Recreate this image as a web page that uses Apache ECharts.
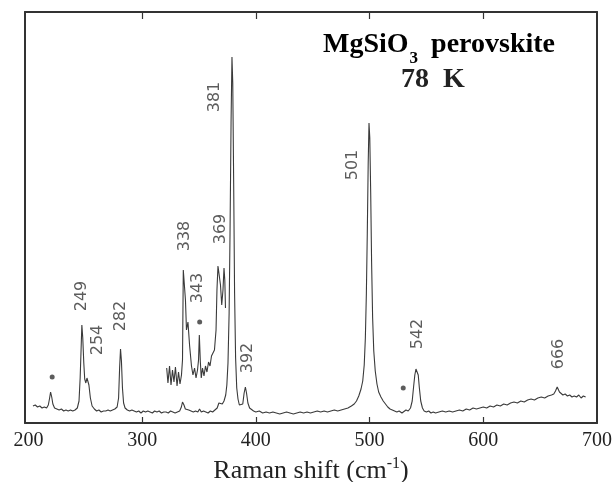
<!DOCTYPE html>
<html><head><meta charset="utf-8">
<script src="https://cdn.jsdelivr.net/npm/echarts@6/dist/echarts.min.js"></script>
<style>html,body{margin:0;padding:0;background:#fff}#c{width:614px;height:482px}</style>
</head><body><div id="c"></div>
<script>
// Main Raman spectrum (wavenumber cm^-1, intensity arb. units)
var specX = [204,206,208,210,212,214,216,217.5,218.5,219.5,220.5,221.5,223,225,227,229,231,233,235,237,239,241,243,244.5,245.5,246.5,247,247.8,248.7,249.5,250.5,251.5,252.3,253.2,254.5,256,258,260,262,264,266,268,270,272,274,276,278,279.3,280.2,281,281.8,282.7,283.7,285,287,289,291,293,295,297,299,301,303,305,307,309,311,313,315,317,319,321,323,325,327,329,331,333,334.5,335.5,336.8,338,339.5,341,343,345,347,349,350.5,352,354,356,358,360,362,364,366,367.5,369,370.5,372,373.5,374.5,375.5,376.5,377.3,378.2,379,379.7,380.5,381.3,382.2,383.2,384.3,385.5,387,388.5,389.7,390.8,391.8,393,394.5,396,398,400,403,406,409,412,415,418,421,424,427,430,433,436,439,442,445,448,451,454,457,460,463,466,469,472,475,478,481,484,486.5,488.5,490.5,492.5,494,495.3,496.3,497.2,498,498.8,499.5,500.2,501,501.8,502.7,503.7,505,506.5,508,510,512,514,516,518,520,522,524,526,527.5,528.5,530,532,534,536,537.5,538.7,539.8,540.8,541.8,542.8,543.8,545,546.5,548,550,552,554,556,558,561,564,567,570,573,576,579,582,585,588,591,594,597,600,603,606,609,612,615,618,621,624,627,630,633,636,639,642,645,648,651,654,657,660,662,663.5,665,666,667,668.5,670,672,674,676,678,680,682,684,686,688,690];
var specY = [17,18,16,17,15,16,15,18,24,31,26,19,15,14,13,14,12,13,12,13,12,13,15,22,45,80,98,85,60,44,40,45,47,38,25,17,14,12,13,11,12,12,13,12,13,14,16,25,55,74,62,35,20,15,13,12,13,12,11,12,10,12,11,12,11,10,12,11,12,10,11,11,10,12,11,10,11,12,16,21,18,14,15,13,12,11,12,11,14,11,12,11,10,12,11,13,15,20,18,19,22,28,38,60,110,190,300,366,340,240,130,65,35,24,18,16,19,30,36,30,20,15,13,12,11,12,10,11,10,11,10,9,10,11,10,9,10,11,10,11,10,11,12,11,12,11,12,13,12,13,14,15,17,19,22,27,34,42,58,85,130,190,260,300,285,230,160,105,72,52,39,31,26,22,19,16,14,13,12,11,12,13,10,11,13,12,15,22,36,48,54,55,48,35,22,15,12,11,12,10,11,10,11,12,11,12,11,12,13,12,14,13,15,14,15,16,15,17,16,18,17,19,18,20,21,20,22,21,23,24,23,25,26,25,27,28,29,32,36,35,31,29,28,29,27,28,26,27,26,28,25,27,26];

// Magnified inset of the 320-375 cm^-1 region (offset upward)
var insetX = [321.6,322.7,324.1,325.4,326.7,328.0,329.3,330.7,332.0,333.3,334.6,335.5,336.2,337.0,338.1,339.0,340.3,341.7,343.4,344.7,346.1,347.4,348.7,349.6,350.3,351.2,352.0,353.1,354.4,355.7,357.0,358.4,359.7,361.0,362.3,363.6,365.0,365.8,366.7,367.6,368.9,370.0,371.1,372.0,372.7,373.3];
var insetY = [55,40,57,38,53,41,56,37,51,39,48,63,153,155,123,93,101,78,57,48,55,45,53,63,88,61,45,55,47,57,51,61,57,67,65,73,93,133,157,159,138,118,133,155,143,115];

// Peak labels (text, label centre position)
var peakLabels = ['381','338','369','249','254','282','343','392','501','542','666'];
var peakLabelX = [364.1,337.3,369.4,247.1,261.2,281.4,348.7,392.7,485.4,542.6,666.6];
var peakLabelY = [326,187,194,127,83,107,135,65,258,89,69];

// Asterisk markers
var starX = [220.9,350.6,529.6];
var starY = [46,101,35];

// Axis tick labels
var xTickLabels = [200,300,400,500,600,700];
var xTicks = [300,400,500,600];

var chart = echarts.init(document.getElementById('c'), null, {renderer:'canvas'});
var lineCol = '#333';
var zip = function(a,b){return a.map(function(v,i){return [v,b[i]];});};

var option = {
  animation:false,
  backgroundColor:'#fff',
  grid:{left:25,right:17,top:12,bottom:59,outerBoundsMode:'none',containLabel:false},
  xAxis:[{
    type:'value', min:197, max:700, position:'bottom',
    axisLine:{show:true,onZero:false,lineStyle:{color:lineCol,width:2}},
    axisTick:{show:true,inside:true,length:6,customValues:xTicks,lineStyle:{color:lineCol,width:1.2}},
    axisLabel:{show:true,customValues:xTickLabels,margin:8,fontFamily:'Liberation Serif',fontSize:20,color:'#222'},
    splitLine:{show:false},
    name:'{a|Raman shift (cm}{s|-1}{a|)}', nameLocation:'middle', nameGap:32,
    nameTextStyle:{rich:{
      a:{fontFamily:'Liberation Serif',fontSize:26,color:'#222',lineHeight:26,padding:[2,0,0,0],verticalAlign:'top'},
      s:{fontFamily:'Liberation Serif',fontSize:16,color:'#222',lineHeight:16,verticalAlign:'top'}
    }}
  },{
    type:'value', min:197, max:700, position:'top',
    axisLine:{show:true,onZero:false,lineStyle:{color:lineCol,width:2}},
    axisTick:{show:true,inside:true,length:7,customValues:xTicks,lineStyle:{color:lineCol,width:1.2}},
    axisLabel:{show:false}, splitLine:{show:false}
  }],
  yAxis:[{
    type:'value', min:0, max:411, position:'left',
    axisLine:{show:true,onZero:false,lineStyle:{color:lineCol,width:2}},
    axisTick:{show:false}, axisLabel:{show:false}, splitLine:{show:false}
  },{
    type:'value', min:0, max:411, position:'right',
    axisLine:{show:true,onZero:false,lineStyle:{color:lineCol,width:2}},
    axisTick:{show:false}, axisLabel:{show:false}, splitLine:{show:false}
  }],
  series:[{
    type:'line', data:zip(specX,specY), showSymbol:false, symbol:'none',
    lineStyle:{color:'#3a3a3a',width:1.1}, z:3
  },{
    type:'line', data:zip(insetX,insetY), showSymbol:false, symbol:'none',
    lineStyle:{color:'#3a3a3a',width:1.1}, z:3
  },{
    type:'scatter', symbolSize:0, silent:true,
    data:peakLabels.map(function(t,i){return {value:[peakLabelX[i],peakLabelY[i]],name:t};}),
    label:{show:true,position:'inside',rotate:90,formatter:'{b}',fontFamily:'DejaVu Sans',fontSize:16,color:'#333',align:'center',verticalAlign:'middle'}
  },{
    type:'scatter', symbol:'circle', symbolSize:5, silent:true,
    itemStyle:{color:'#333'},
    data:zip(starX,starY)
  }],
  graphic:[{
    type:'text', left:323, top:31, silent:true,
    style:{
      text:'{a|MgSiO}{s|3}{a| perovskite}',
      rich:{
        a:{fontFamily:'Liberation Serif',fontWeight:'bold',fontSize:28,lineHeight:28,color:'#222',verticalAlign:'top'},
        s:{fontFamily:'Liberation Serif',fontWeight:'bold',fontSize:17,lineHeight:17,color:'#222',verticalAlign:'top',padding:[19,6,0,1]}
      }
    }
  },{
    type:'text', left:401, top:66, silent:true,
    style:{text:'78  K',fontFamily:'Liberation Serif',fontWeight:'bold',fontSize:28,lineHeight:28,fill:'#222'}
  }]
};
chart.setOption(option);
</script>
</body></html>
